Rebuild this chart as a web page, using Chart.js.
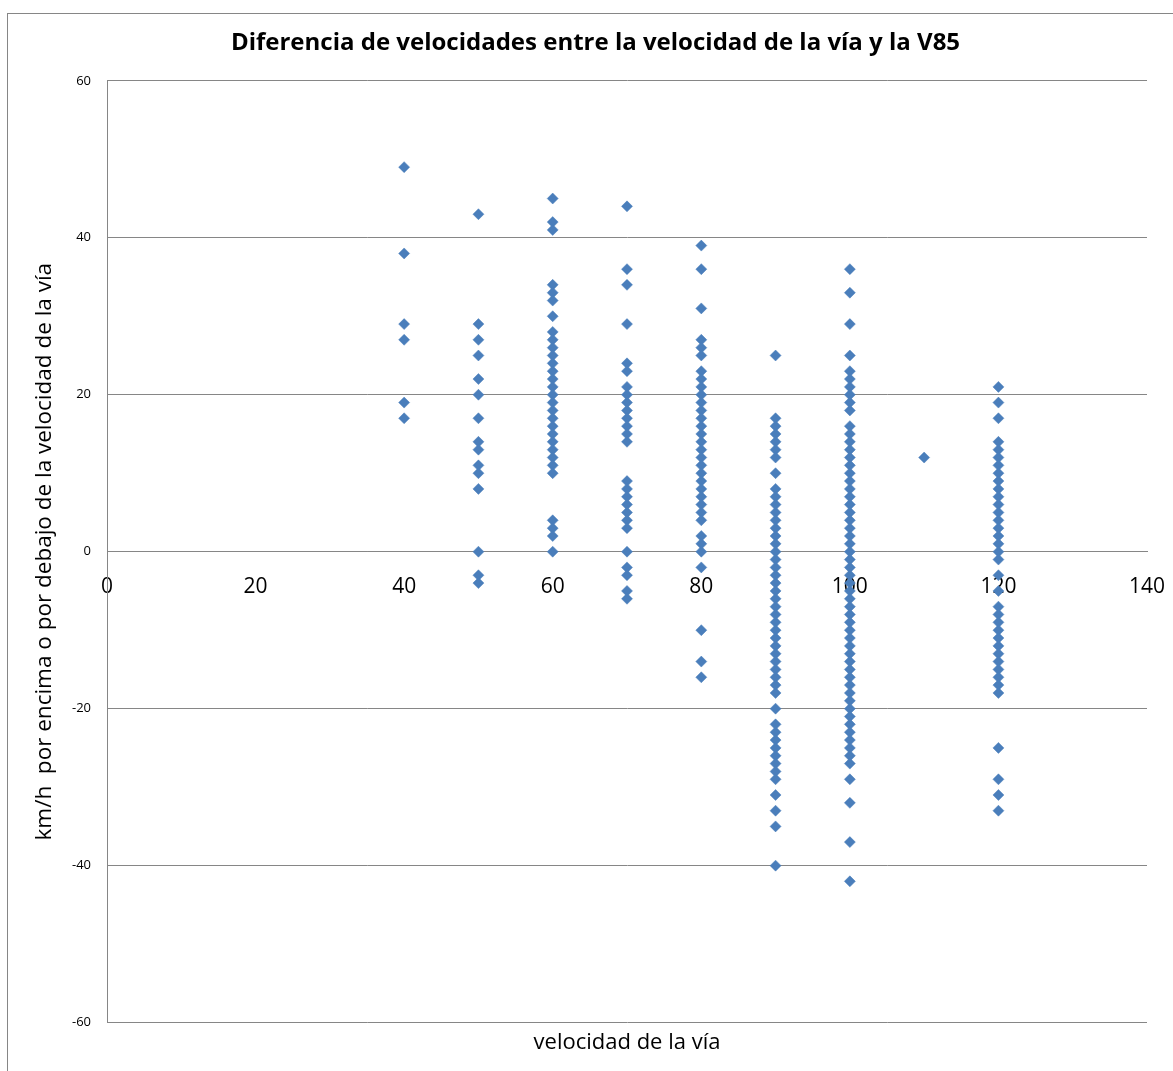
<!DOCTYPE html>
<html>
<head>
<meta charset="utf-8">
<script src="https://cdn.jsdelivr.net/npm/chart.js@4/dist/chart.umd.min.js"></script>
<style>
  html, body { margin: 0; padding: 0; background: #ffffff; }
  #wrap { width: 1173px; height: 1071px; }
</style>
</head>
<body>
<div id="wrap"><canvas id="c" width="1173" height="1071"></canvas></div>
<script>
// Velocidad de la vía (km/h) and, for each one, the difference V85 − velocidad de la vía (km/h)
const speeds = [40, 50, 60, 70, 80, 90, 100, 110, 120];

const diff40 = [49, 38, 29, 27, 19, 17];
const diff50 = [43, 29, 27, 25, 22, 20, 17, 14, 13, 11, 10, 8, 0, -3, -4];
const diff60 = [45, 42, 41, 34, 33, 32, 30, 28, 27, 26, 25, 24, 23, 22, 21, 20, 19, 18, 17, 16, 15, 14, 13, 12, 11, 10, 4, 3, 2, 0];
const diff70 = [44, 36, 34, 29, 24, 23, 21, 20, 19, 18, 17, 16, 15, 14, 9, 8, 7, 6, 5, 4, 3, 0, -2, -3, -5, -6];
const diff80 = [39, 36, 31, 27, 26, 25, 23, 22, 21, 20, 19, 18, 17, 16, 15, 14, 13, 12, 11, 10, 9, 8, 7, 6, 5, 4, 2, 1, 0, -2, -10, -14, -16];
const diff90 = [25, 17, 16, 15, 14, 13, 12, 10, 8, 7, 6, 5, 4, 3, 2, 1, 0, -1, -2, -3, -4, -5, -6, -7, -8, -9, -10, -11, -12, -13, -14, -15, -16, -17, -18, -20, -22, -23, -24, -25, -26, -27, -28, -29, -31, -33, -35, -40];
const diff100 = [36, 33, 29, 25, 23, 22, 21, 20, 19, 18, 16, 15, 14, 13, 12, 11, 10, 9, 8, 7, 6, 5, 4, 3, 2, 1, 0, -1, -2, -3, -4, -5, -6, -7, -8, -9, -10, -11, -12, -13, -14, -15, -16, -17, -18, -19, -20, -21, -22, -23, -24, -25, -26, -27, -29, -32, -37, -42];
const diff110 = [12];
const diff120 = [21, 19, 17, 14, 13, 12, 11, 10, 9, 8, 7, 6, 5, 4, 3, 2, 1, 0, -1, -3, -5, -7, -8, -9, -10, -11, -12, -13, -14, -15, -16, -17, -18, -25, -29, -31, -33];

const diffsBySpeed = [diff40, diff50, diff60, diff70, diff80, diff90, diff100, diff110, diff120];

const xTicks = [0, 20, 40, 60, 80, 100, 120, 140];
const yTicks = [-60, -40, -20, 0, 20, 40, 60];

const points = [];
speeds.forEach((s, i) => {
  diffsBySpeed[i].forEach(d => points.push({ x: s, y: d }));
});

const GRID = '#868686';
const FONT = '"Open Sans", "Noto Sans", "Liberation Sans", sans-serif';

// outer frame of the chart object
const frame = {
  id: 'frame',
  beforeDraw(chart) {
    const ctx = chart.ctx;
    ctx.save();
    ctx.fillStyle = '#ffffff';
    ctx.fillRect(0, 0, chart.width, chart.height);
    ctx.strokeStyle = GRID;
    ctx.lineWidth = 1;
    ctx.strokeRect(7.5, 13.5, chart.width + 20, chart.height + 20);
    ctx.restore();
  }
};

new Chart(document.getElementById('c'), {
  type: 'scatter',
  data: {
    datasets: [{
      label: 'Diferencia',
      data: points,
      pointStyle: 'rectRot',
      pointRadius: 5.5,
      pointHoverRadius: 5.5,
      backgroundColor: '#4a7ebb',
      borderColor: '#4a7ebb',
      borderWidth: 0.5
    }]
  },
  options: {
    responsive: false,
    animation: false,
    devicePixelRatio: 1,
    layout: { padding: { left: 18, right: 0, top: 0, bottom: 0 } },
    plugins: {
      legend: { display: false },
      tooltip: { enabled: false },
      title: {
        display: true,
        text: 'Diferencia de velocidades entre la velocidad de la vía y la V85',
        color: '#000000',
        font: { family: FONT, size: 24, weight: 'bold', lineHeight: 1.2 },
        padding: { top: 29, bottom: 23 }
      },
      subtitle: {
        display: true,
        position: 'bottom',
        fullSize: false,
        text: 'velocidad de la vía',
        color: '#000000',
        font: { family: FONT, size: 22, lineHeight: 1.2 },
        padding: { top: 7, bottom: 15 }
      }
    },
    scales: {
      x: {
        type: 'linear',
        position: { y: 0 },
        min: 0,
        max: 140,
        afterBuildTicks(scale) { scale.ticks = xTicks.map(v => ({ value: v })); },
        ticks: {
          color: '#000000',
          font: { family: FONT, size: 21 },
          padding: 3,
          maxRotation: 0,
          autoSkip: false
        },
        grid: { display: false, drawTicks: true, tickLength: 20 },
        border: { display: true, color: GRID, width: 1 }
      },
      y: {
        type: 'linear',
        position: 'left',
        min: -60,
        max: 60,
        afterBuildTicks(scale) { scale.ticks = yTicks.map(v => ({ value: v })); },
        afterFit(scale) { scale.width = 89; },
        ticks: {
          color: '#000000',
          font: { family: FONT, size: 13 },
          padding: 16
        },
        grid: { color: GRID, lineWidth: 1, drawTicks: false },
        border: { display: true, color: GRID, width: 1 },
        title: {
          display: true,
          text: 'km/h  por encima o por debajo de la velocidad de la vía',
          color: '#000000',
          font: { family: FONT, size: 22.5, lineHeight: 1.2 },
          padding: { top: 13.5, bottom: 0 }
        }
      },
      yRight: {
        type: 'linear',
        position: 'right',
        display: true,
        min: -60,
        max: 60,
        afterFit(scale) { scale.width = 26; },
        ticks: { display: false },
        grid: { display: false, drawTicks: false },
        border: { display: false }
      }
    }
  },
  plugins: [frame]
});
</script>
</body>
</html>
